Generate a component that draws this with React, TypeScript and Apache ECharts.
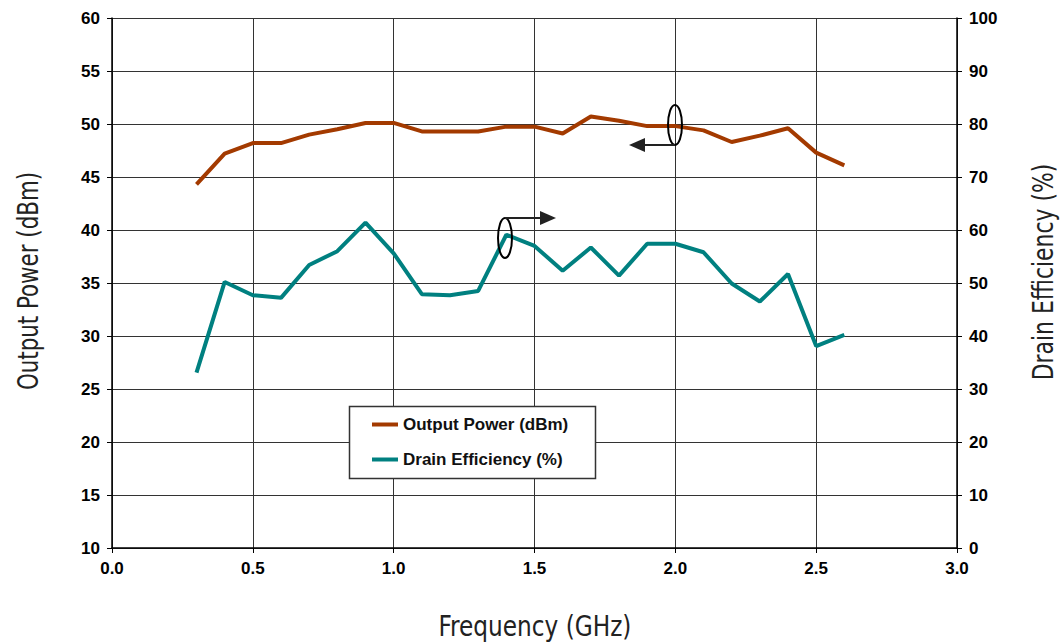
import React, { useEffect, useRef } from "react";
import * as echarts from "echarts";

const frequency = [0.3, 0.4, 0.5, 0.6, 0.7, 0.8, 0.9, 1.0, 1.1, 1.2, 1.3, 1.4, 1.5, 1.6, 1.7, 1.8, 1.9, 2.0, 2.1, 2.2, 2.3, 2.4, 2.5, 2.6];
const outputPower = [44.3, 47.2, 48.2, 48.2, 49.0, 49.5, 50.1, 50.1, 49.3, 49.3, 49.3, 49.75, 49.75, 49.1, 50.7, 50.3, 49.8, 49.8, 49.4, 48.3, 48.9, 49.6, 47.3, 46.1];
const drainEfficiency = [33.1, 50.2, 47.7, 47.2, 53.4, 56.0, 61.4, 55.6, 47.9, 47.7, 48.5, 59.1, 57.0, 52.3, 56.7, 51.4, 57.4, 57.4, 55.8, 49.9, 46.5, 51.7, 38.1, 40.2];

const seriesNames = ["Output Power (dBm)", "Drain Efficiency (%)"];
const xTitle = "Frequency (GHz)";
const leftTitle = "Output Power (dBm)";
const rightTitle = "Drain Efficiency (%)";

const TICK_FONT = "'Liberation Sans', Arial, sans-serif";
const TITLE_FONT = "'Liberation Sans Narrow', 'Arial Narrow', 'DejaVu Sans Condensed', 'DejaVu Sans', sans-serif";

export default function App() {
  const ref = useRef<HTMLDivElement>(null);
  useEffect(() => {
    if (!ref.current) return;
    const chart = echarts.init(ref.current, undefined, { renderer: "svg" });
    const tickLabel = { color: "#000", fontFamily: TICK_FONT, fontWeight: "bold", fontSize: 17 };
    const gridLine = { show: true, lineStyle: { color: "#333", width: 1 } };
    chart.setOption({
      animation: false,
      backgroundColor: "#fff",
      grid: { left: 112, right: 103, top: 18, bottom: 96, containLabel: false },
      xAxis: {
        type: "value",
        min: 0,
        max: 3,
        interval: 0.5,
        axisLine: { show: true, lineStyle: { color: "#000", width: 1.5 } },
        axisTick: { show: true, length: 5, lineStyle: { color: "#000" } },
        axisLabel: { ...tickLabel, margin: 12, formatter: (v: number) => v.toFixed(1) },
        splitLine: gridLine,
      },
      yAxis: [
        {
          type: "value",
          min: 10,
          max: 60,
          interval: 5,
          position: "left",
          axisLine: { show: true, lineStyle: { color: "#000", width: 1.5 } },
          axisTick: { show: true, length: 5, lineStyle: { color: "#000" } },
          axisLabel: { ...tickLabel, margin: 12 },
          splitLine: gridLine,
        },
        {
          type: "value",
          min: 0,
          max: 100,
          interval: 10,
          position: "right",
          axisLine: { show: true, lineStyle: { color: "#000", width: 1.5 } },
          axisTick: { show: true, length: 5, lineStyle: { color: "#000" } },
          axisLabel: { ...tickLabel, margin: 12 },
          splitLine: { show: false },
        },
      ],
      legend: {
        orient: "vertical",
        left: 349,
        top: 406,
        padding: [10, 10, 8, 23],
        itemWidth: 26,
        itemHeight: 4,
        itemGap: 18,
        icon: "rect",
        z: 20,
        textStyle: { color: "#111", fontFamily: TICK_FONT, fontWeight: "bold", fontSize: 17 },
        data: seriesNames,
      },
      series: [
        {
          name: seriesNames[0],
          type: "line",
          yAxisIndex: 0,
          symbol: "none",
          color: "#A33A00",
          lineStyle: { width: 4, color: "#A33A00" },
          data: frequency.map((f, i) => [f, outputPower[i]]),
        },
        {
          name: seriesNames[1],
          type: "line",
          yAxisIndex: 1,
          symbol: "none",
          color: "#008080",
          lineStyle: { width: 4, color: "#008080" },
          data: frequency.map((f, i) => [f, drainEfficiency[i]]),
        },
      ],
      graphic: [
        {
          type: "rect",
          z: 10,
          shape: { x: 349.5, y: 406.5, width: 246, height: 72 },
          style: { fill: "#fff", stroke: "#333", lineWidth: 1.5 },
        },
        // left-pointing annotation (output power -> left axis)
        { type: "ellipse", z: 30, shape: { cx: 675, cy: 125, rx: 7, ry: 20 }, style: { fill: "none", stroke: "#000", lineWidth: 2 } },
        { type: "line", z: 30, shape: { x1: 675, y1: 145, x2: 642, y2: 145 }, style: { stroke: "#222", lineWidth: 2 } },
        { type: "polygon", z: 30, shape: { points: [[629, 145], [645, 138], [645, 152]] }, style: { fill: "#222" } },
        // right-pointing annotation (drain efficiency -> right axis)
        { type: "ellipse", z: 30, shape: { cx: 505, cy: 238, rx: 7, ry: 20 }, style: { fill: "none", stroke: "#000", lineWidth: 2 } },
        { type: "line", z: 30, shape: { x1: 505, y1: 218, x2: 542, y2: 218 }, style: { stroke: "#222", lineWidth: 2 } },
        { type: "polygon", z: 30, shape: { points: [[556, 218], [540, 211], [540, 225]] }, style: { fill: "#222" } },
        // axis titles
        {
          type: "text",
          x: 535,
          y: 626,
          scaleX: 0.89,
          style: { text: xTitle, fill: "#222", font: `29px ${TITLE_FONT}`, align: "center", verticalAlign: "middle" },
        },
        {
          type: "text",
          x: 28,
          y: 281,
          rotation: Math.PI / 2,
          scaleX: 0.82,
          style: { text: leftTitle, fill: "#222", font: `29px ${TITLE_FONT}`, align: "center", verticalAlign: "middle" },
        },
        {
          type: "text",
          x: 1043,
          y: 272,
          rotation: Math.PI / 2,
          scaleX: 0.84,
          style: { text: rightTitle, fill: "#222", font: `29px ${TITLE_FONT}`, align: "center", verticalAlign: "middle" },
        },
      ],
    });
    return () => chart.dispose();
  }, []);
  return <div ref={ref} style={{ width: 1060, height: 644, position: "absolute", left: 0, top: 0 }} />;
}
